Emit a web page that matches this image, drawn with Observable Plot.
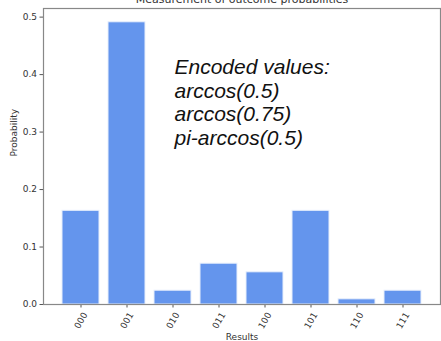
<!DOCTYPE html>
<html>
<head>
<meta charset="utf-8">
<script src="https://cdn.jsdelivr.net/npm/d3@7"></script>
<script src="https://cdn.jsdelivr.net/npm/@observablehq/plot@0.6"></script>
<style>
  html, body { margin: 0; padding: 0; background: white; overflow: hidden; }
</style>
</head>
<body>
<div id="chart"></div>
<script>
const categories = ["000", "001", "010", "011", "100", "101", "110", "111"];
const probabilities = [0.163, 0.491, 0.024, 0.071, 0.056, 0.163, 0.009, 0.024];
const yTicks = [0, 0.1, 0.2, 0.3, 0.4, 0.5];
const titleText = "Measurement of outcome probabilities";
const xLabel = "Results";
const yLabel = "Probability";
const annotationLines = ["Encoded values:", "arccos(0.5)", "arccos(0.75)", "pi-arccos(0.5)"];

const data = categories.map((c, i) => ({ result: c, p: probabilities[i] }));
const sans = "DejaVu Sans, sans-serif";

const chart = Plot.plot({
  width: 441,
  height: 341,
  marginLeft: 43,
  marginRight: 1,
  marginTop: 8,
  marginBottom: 37,
  style: { fontFamily: sans, fontSize: "9px", color: "#333", background: "white", overflow: "visible" },
  x: { domain: categories, paddingInner: 0.2, paddingOuter: 0.39, axis: null },
  y: { domain: [0, 0.515], axis: null },
  marks: [
    Plot.barY(data, { x: "result", y: "p", fill: "#6495ED", stroke: "#e8effc", strokeWidth: 1 }),
    Plot.axisY({ ticks: yTicks, tickFormat: d3.format(".1f"), tickSize: 3.5, tickPadding: 3, fontSize: 9, stroke: "#555",
                 label: null }),
    Plot.axisX({ tickSize: 3.5, tickFormat: () => "", stroke: "#555", label: null }),
    Plot.text(categories, { x: d => d, frameAnchor: "bottom", dy: 16, rotate: -60, textAnchor: "middle", lineAnchor: "middle", fontSize: 9, fill: "#333" }),
    Plot.text([xLabel], { frameAnchor: "bottom", dy: 33, lineAnchor: "middle", fontSize: 9, fill: "#333" }),
    Plot.text([yLabel], { frameAnchor: "left", dx: -29, rotate: -90, lineAnchor: "middle", fontSize: 9, fill: "#333" }),
    Plot.text([titleText], { frameAnchor: "top", dy: -9, lineAnchor: "middle", fontSize: 11, fill: "#333" }),
    Plot.text([annotationLines.join("\n")], { frameAnchor: "top-left", dx: 131, dy: 49, textAnchor: "start", lineAnchor: "top",
               fontSize: 21, lineHeight: 1.12, fontStyle: "italic", fontFamily: "Liberation Sans, Arial, sans-serif", fill: "#111" }),
    Plot.frame({ stroke: "#888", strokeWidth: 1.2 })
  ]
});
document.getElementById("chart").appendChild(chart);
</script>
</body>
</html>
